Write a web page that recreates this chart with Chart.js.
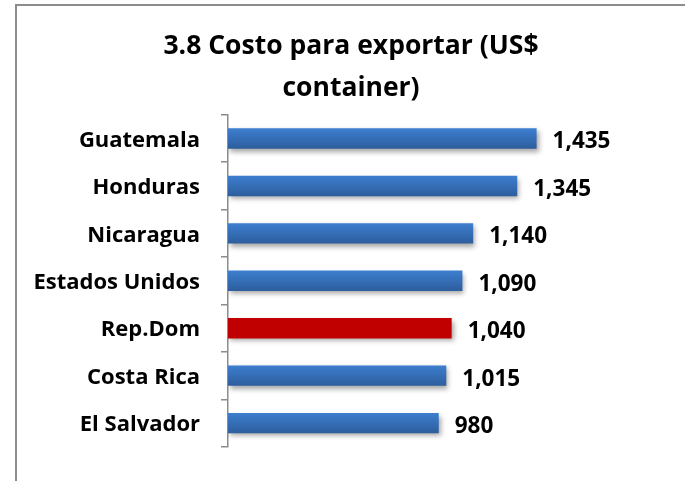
<!DOCTYPE html>
<html>
<head>
<meta charset="utf-8">
<script src="https://cdn.jsdelivr.net/npm/chart.js@4"></script>
<style>
  html, body { margin: 0; padding: 0; background: #fff; }
  #wrap { position: relative; width: 685px; height: 481px; overflow: hidden; }
  #frame { position: absolute; left: 15px; top: 4px; width: 700px; height: 500px;
           border-left: 2px solid #8c8c8c; border-top: 2px solid #8c8c8c; }
  canvas { position: absolute; left: 0; top: 0; }
</style>
</head>
<body>
<div id="wrap">
  <div id="frame"></div>
  <canvas id="chart" width="685" height="481"></canvas>
</div>
<script>
// Costo para exportar — horizontal bars

const countries = ['Guatemala', 'Honduras', 'Nicaragua', 'Estados Unidos', 'Rep.Dom', 'Costa Rica', 'El Salvador'];
const costs = [1435, 1345, 1140, 1090, 1040, 1015, 980];
const highlight = 'Rep.Dom';

const FONT = '"Open Sans", sans-serif';

// bar fill: blue gradient, red for the highlighted country
function barFill(ctx) {
  const chart = ctx.chart;
  if (countries[ctx.dataIndex] === highlight) return '#c00000';
  const yScale = chart.scales && chart.scales.y;
  if (!chart.chartArea || !yScale) return '#3a73c0';
  const cy = yScale.getPixelForValue(ctx.dataIndex);
  if (!isFinite(cy)) return '#3a73c0';
  const h = 10.5;
  const g = chart.ctx.createLinearGradient(0, cy - h, 0, cy + h);
  g.addColorStop(0, '#3d7fd0');
  g.addColorStop(1, '#2d5d9c');
  return g;
}

// soft shadow under the bars
const shadowPlugin = {
  id: 'barShadow',
  beforeDatasetsDraw(chart) {
    const c = chart.ctx;
    c.save();
    c.shadowColor = 'rgba(0,0,0,0.35)';
    c.shadowBlur = 5;
    c.shadowOffsetX = 2;
    c.shadowOffsetY = 3;
  },
  afterDatasetsDraw(chart) {
    chart.ctx.restore();
  }
};

// value labels right of each bar
const valueLabels = {
  id: 'valueLabels',
  afterDatasetsDraw(chart) {
    const c = chart.ctx;
    const meta = chart.getDatasetMeta(0);
    c.save();
    c.font = 'bold 22.5px ' + FONT;
    c.fillStyle = '#000';
    c.textAlign = 'left';
    c.textBaseline = 'middle';
    meta.data.forEach((bar, i) => {
      c.fillText(costs[i].toLocaleString('en-US'), bar.x + 16, bar.y + 3.5);
    });
    c.restore();
  }
};

new Chart(document.getElementById('chart'), {
  type: 'bar',
  data: {
    labels: countries,
    datasets: [{
      data: costs,
      backgroundColor: barFill,
      borderWidth: 0,
      barPercentage: 0.43,
      categoryPercentage: 1
    }]
  },
  options: {
    indexAxis: 'y',
    responsive: false,
    animation: false,
    layout: { padding: { left: 17, right: 0, top: 0, bottom: 26 } },
    plugins: {
      legend: { display: false },
      tooltip: { enabled: false },
      title: {
        display: true,
        text: ['3.8 Costo para exportar (US$', 'container)'],
        color: '#000',
        font: { family: FONT, size: 26.5, weight: 'bold', lineHeight: 1.6 },
        padding: { top: 25, bottom: 5 }
      }
    },
    scales: {
      x: { display: false, min: 0, max: 2125 },
      y: {
        afterFit(scale) { scale.width = 211; },
        grid: {
          drawOnChartArea: false,
          drawTicks: true,
          tickLength: 7,
          color: '#8c8c8c',
          lineWidth: 1.5
        },
        border: { color: '#8c8c8c', width: 1.5 },
        ticks: {
          color: '#000',
          padding: 21,
          labelOffset: 2,
          font: { family: FONT, size: 22, weight: 'bold' }
        }
      }
    }
  },
  plugins: [shadowPlugin, valueLabels]
});
</script>
</body>
</html>
